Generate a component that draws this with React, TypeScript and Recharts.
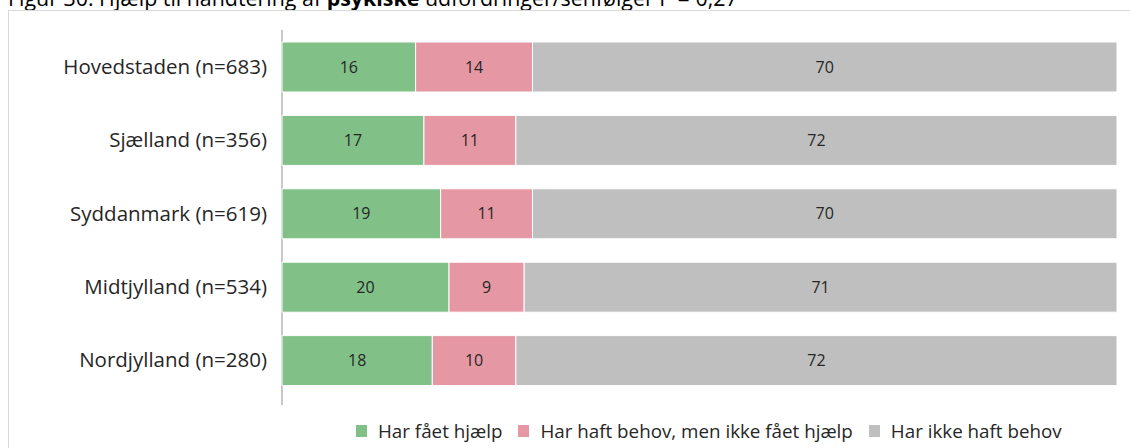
import React from "react";
import { BarChart, Bar, XAxis, YAxis, LabelList } from "recharts";

// Regioner og andele (%)
const categories = [
  "Hovedstaden (n=683)",
  "Sjælland (n=356)",
  "Syddanmark (n=619)",
  "Midtjylland (n=534)",
  "Nordjylland (n=280)",
];
const harFaaetHjaelp = [16, 17, 19, 20, 18];
const behovIkkeHjaelp = [14, 11, 11, 9, 10];
const ikkeBehov = [70, 72, 70, 71, 72];

const seriesNames = [
  "Har fået hjælp",
  "Har haft behov, men ikke fået hjælp",
  "Har ikke haft behov",
];
const seriesColors = ["#81c087", "#e598a4", "#bfbfbf"];

const FONT = "'Open Sans', sans-serif";

const data = categories.map((label, i) => ({
  label,
  a: harFaaetHjaelp[i],
  b: behovIkkeHjaelp[i],
  c: ikkeBehov[i],
}));

function CategoryTick(props: any) {
  const { x, y, payload } = props;
  return (
    <text
      x={x - 7}
      y={y}
      dy="0.35em"
      textAnchor="end"
      fontFamily={FONT}
      fontSize={20.5}
      fill="#262626"
    >
      {payload.value}
    </text>
  );
}

function LegendRow() {
  return (
    <div
      style={{
        position: "absolute",
        left: 356,
        top: 418,
        display: "flex",
        alignItems: "center",
        fontFamily: FONT,
        fontSize: 18.8,
        color: "#262626",
        whiteSpace: "nowrap",
      }}
    >
      {seriesNames.map((name, i) => (
        <div key={name} style={{ display: "flex", alignItems: "center", marginRight: 16 }}>
          <span
            style={{
              display: "inline-block",
              width: 11,
              height: 12,
              background: seriesColors[i],
              marginRight: 11,
            }}
          />
          <span>{name}</span>
        </div>
      ))}
    </div>
  );
}

export default function App() {
  const valueLabel = { fontFamily: FONT, fontSize: 16, fill: "#262626" };
  return (
    <div
      style={{
        position: "fixed",
        left: 0,
        top: 0,
        width: 1130,
        height: 448,
        overflow: "hidden",
        background: "#fff",
      }}
    >
      <svg width={1130} height={14} style={{ position: "absolute", left: 0, top: 0 }}>
        <text x={8} y={6} fontFamily={FONT} fontSize={21.4} fill="#000">
          Figur 30: Hjælp til håndtering af{" "}
          <tspan fontWeight="bold">psykiske</tspan> udfordringer/senfølger P = 0,27
        </text>
      </svg>
      <div
        style={{
          position: "absolute",
          left: 8,
          top: 10,
          width: 1140,
          height: 460,
          borderTop: "1px solid #d9d9d9",
          borderLeft: "1px solid #d9d9d9",
        }}
      />
      {/* kategoriaksens linje går lidt ud over plotområdet, som i originalen */}
      <div
        style={{
          position: "absolute",
          left: 281,
          top: 30,
          width: 2,
          height: 375,
          background: "#c8c8c8",
        }}
      />
      <div style={{ position: "absolute", left: 8, top: 10 }}>
        <BarChart
          layout="vertical"
          width={1122}
          height={438}
          data={data}
          margin={{ top: 20, right: 13, bottom: 51, left: 0 }}
          barSize={50}
        >
          <XAxis type="number" domain={[0, 100]} hide />
          <YAxis
            type="category"
            dataKey="label"
            width={274}
            tick={<CategoryTick />}
            tickLine={false}
            axisLine={false}
          />
          <Bar dataKey="a" stackId="s" fill={seriesColors[0]} stroke="#fff" strokeWidth={1} isAnimationActive={false}>
            <LabelList dataKey="a" position="center" style={valueLabel} />
          </Bar>
          <Bar dataKey="b" stackId="s" fill={seriesColors[1]} stroke="#fff" strokeWidth={1} isAnimationActive={false}>
            <LabelList dataKey="b" position="center" style={valueLabel} />
          </Bar>
          <Bar dataKey="c" stackId="s" fill={seriesColors[2]} stroke="#fff" strokeWidth={1} isAnimationActive={false}>
            <LabelList dataKey="c" position="center" style={valueLabel} />
          </Bar>
        </BarChart>
      </div>
      <LegendRow />
    </div>
  );
}
